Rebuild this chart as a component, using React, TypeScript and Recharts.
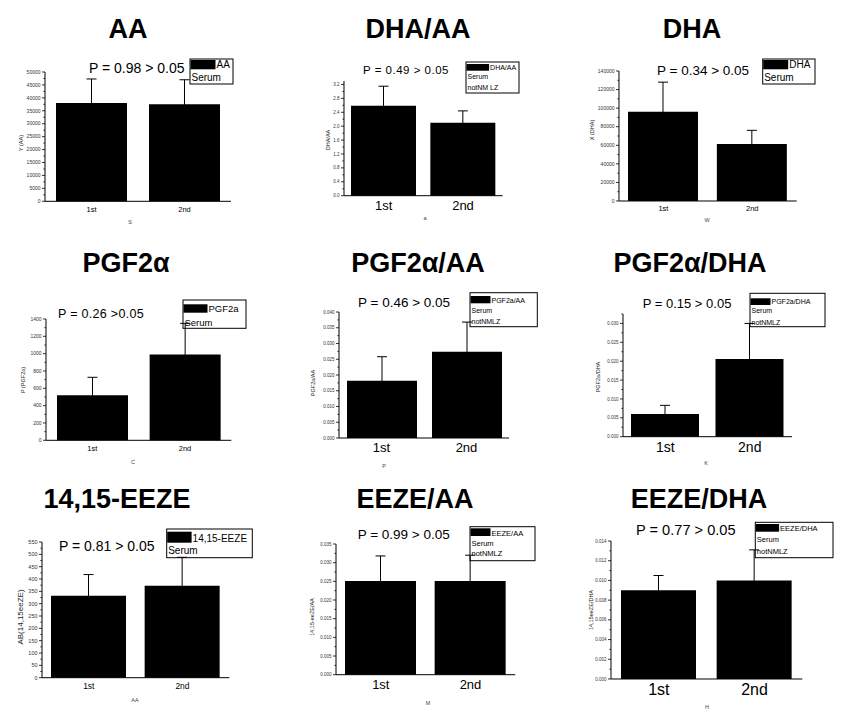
import { BarChart, Bar, XAxis, YAxis, ErrorBar } from 'recharts'

const categories = ['1st', '2nd']

const titles = ['AA', 'DHA/AA', 'DHA', 'PGF2α', 'PGF2α/AA', 'PGF2α/DHA', '14,15-EEZE', 'EEZE/AA', 'EEZE/DHA']

const pTexts = [
  'P = 0.98 > 0.05',
  'P = 0.49 > 0.05',
  'P = 0.34 > 0.05',
  'P = 0.26 >0.05',
  'P = 0.46 > 0.05',
  'P = 0.15 > 0.05',
  'P = 0.81 > 0.05',
  'P = 0.99 > 0.05',
  'P = 0.77 > 0.05',
]

const means1st = [38000, 2.59, 96000, 520, 0.0182, 0.006, 332, 0.0251, 0.009]
const means2nd = [37500, 2.1, 61500, 990, 0.0274, 0.0206, 373, 0.0251, 0.01]
const errs1st = [9300, 0.56, 32000, 207, 0.0076, 0.0023, 86, 0.0067, 0.0015]
const errs2nd = [9500, 0.34, 14600, 360, 0.0094, 0.0094, 115, 0.0069, 0.0031]

const yTickLabels = [
  [0, 5000, 10000, 15000, 20000, 25000, 30000, 35000, 40000, 45000, 50000],
  [0, 0.4, 0.8, 1.2, 1.6, 2.0, 2.4, 2.8, 3.2],
  [0, 20000, 40000, 60000, 80000, 100000, 120000, 140000],
  [0, 200, 400, 600, 800, 1000, 1200, 1400],
  [0, 0.005, 0.01, 0.015, 0.02, 0.025, 0.03, 0.035, 0.04],
  [0, 0.005, 0.01, 0.015, 0.02, 0.025, 0.03],
  [0, 50, 100, 150, 200, 250, 300, 350, 400, 450, 500, 550],
  [0, 0.005, 0.01, 0.015, 0.02, 0.025, 0.03, 0.035],
  [0, 0.002, 0.004, 0.006, 0.008, 0.01, 0.012, 0.014],
]
const yMax = [50000, 3.3, 140000, 1400, 0.04, 0.0325, 550, 0.035, 0.014]

const yTitles = ['Y (AA)', 'DHA/AA', 'X (DHA)', 'P (PGF2a)', 'PGF2a/AA', 'PGF2a/DHA', 'AB(14,15eeZE)', '14,15-eeZE/AA', '14,15eeZE/DHA']
const xTitles = ['S', 'a', 'W', 'C', 'P', 'K', 'AA', 'M', 'H']

const legendLines = [
  ['AA', 'Serum'],
  ['DHA/AA', 'Serum', 'notNM LZ'],
  ['DHA', 'Serum'],
  ['PGF2a', 'Serum'],
  ['PGF2a/AA', 'Serum', 'notNMLZ'],
  ['PGF2a/DHA', 'Serum', 'notNMLZ'],
  ['14,15-EEZE', 'Serum'],
  ['EEZE/AA', 'Serum', 'notNMLZ'],
  ['EEZE/DHA', 'Serum', 'notNMLZ'],
]

// page positions for each panel (plot box, text anchors, legend box)
const layouts = [
  { L: 45, R: 231, T: 71.7, B: 201, bar: 71, yFs: 5, xFs: 7.5, dec: 0,
    title: [128, 38], p: [89, 72.7, 14, 0],
    lg: { x: 190, y: 59, w: 43, h: 25, sw: 25, sh: 9.3, sy: 60, fs: 10, rows: [68.3, 80.7] },
    yt: [21, 143], xt: [130, 222] },
  { L: 344.3, R: 503, T: 81.3, B: 196, bar: 65, yFs: 4.5, xFs: 13, dec: 1,
    title: [418, 38], p: [363, 74, 11.5, 0.5],
    lg: { x: 466, y: 62, w: 53, h: 31, sw: 22.6, sh: 6.7, sy: 64, fs: 7, rows: [70, 79.3, 90.3] },
    yt: [328, 140], xt: [425, 218] },
  { L: 619.3, R: 797, T: 71, B: 201, bar: 70, yFs: 5, xFs: 7.5, dec: 0,
    title: [692, 38], p: [657, 75, 13.5, 0],
    lg: { x: 762.7, y: 59, w: 52.3, h: 25, sw: 25, sh: 9.3, sy: 60, fs: 10, rows: [68.3, 81] },
    yt: [592, 130], xt: [707, 220] },
  { L: 45.7, R: 231, T: 319, B: 440.3, bar: 71, yFs: 5, xFs: 7.5, dec: 0,
    title: [126, 272], p: [58, 317.7, 12.5, 0.3],
    lg: { x: 183, y: 300, w: 63, h: 28.3, sw: 24, sh: 8.4, sy: 304.3, fs: 9.5, rows: [311.7, 325.7] },
    yt: [23, 380], xt: [133, 462] },
  { L: 339, R: 509, T: 312.3, B: 438.3, bar: 70, yFs: 4.5, xFs: 13, dec: 3,
    title: [418, 272], p: [358, 306.7, 13.5, 0],
    lg: { x: 470, y: 292.7, w: 67.3, h: 34, sw: 20, sh: 7.3, sy: 296, fs: 7, rows: [302.7, 312.7, 324.3] },
    yt: [313, 383], xt: [384, 466] },
  { L: 623, R: 792, T: 314, B: 436.7, bar: 68, yFs: 4.5, xFs: 14, dec: 3,
    title: [690, 272], p: [642.7, 307.7, 13, 0],
    lg: { x: 750, y: 293.3, w: 75, h: 33.4, sw: 20, sh: 6.7, sy: 298.3, fs: 7, rows: [304, 313.3, 324.7] },
    yt: [598, 377], xt: [706, 463] },
  { L: 41.7, R: 229, T: 542.3, B: 678, bar: 75, yFs: 5.5, xFs: 8.5, dec: 0,
    title: [117, 508], p: [59, 551, 14, 0],
    lg: { x: 166.7, y: 529, w: 85.6, h: 28.7, sw: 24.4, sh: 11, sy: 531.7, fs: 10, rows: [541.7, 554.3] },
    yt: [20, 617], xt: [135, 700] },
  { L: 335.7, R: 515, T: 544, B: 674.7, bar: 71, yFs: 4.5, xFs: 13, dec: 3,
    title: [415, 508], p: [357.7, 539.3, 13.5, 0],
    lg: { x: 470, y: 526.7, w: 65, h: 34, sw: 20, sh: 7.7, sy: 528.3, fs: 7.5, rows: [535.7, 546, 556] },
    yt: [312, 617], xt: [428, 703] },
  { L: 610.7, R: 802, T: 540.7, B: 678.7, bar: 75, yFs: 4.5, xFs: 16, dec: 3,
    title: [699, 508], p: [636, 535, 14.6, 0],
    lg: { x: 755.3, y: 522.3, w: 77.7, h: 35.4, sw: 23.3, sh: 7.7, sy: 524, fs: 7.5, rows: [531, 542, 554] },
    yt: [591, 610], xt: [707, 707] },
]

const YW = 35
const PAD = 10
const XH = 30

function YTick(props: any) {
  const { x, y, payload, fs, dec, majors } = props
  const ax = x + 4
  const isMajor = majors.some((m: number) => Math.abs(m - payload.value) < 1e-9)
  return (
    <g>
      <line x1={ax - (isMajor ? 3 : 1.6)} x2={ax} y1={y} y2={y} stroke="#000" strokeWidth={0.8} />
      {isMajor && (
        <text x={x - 0.5} y={y} dy="0.35em" textAnchor="end" fontSize={fs} fill="#333">
          {payload.value.toFixed(dec)}
        </text>
      )}
    </g>
  )
}

function Panel({ i }: { i: number }) {
  const lay = layouts[i]
  const data = categories.map((name, k) => ({
    name,
    mean: k === 0 ? means1st[i] : means2nd[i],
    err: k === 0 ? errs1st[i] : errs2nd[i],
  }))
  const majors = yTickLabels[i]
  const ticks: number[] = []
  majors.forEach((v, k) => {
    ticks.push(v)
    const step = majors[1] - majors[0]
    const mid = v + step / 2
    if (mid <= yMax[i] + 1e-9) ticks.push(mid)
  })
  const w = lay.R - lay.L + YW + PAD
  const h = lay.B - lay.T + PAD + XH
  return (
    <div style={{ position: 'absolute', left: lay.L - YW, top: lay.T - PAD, width: w, height: h }}>
      <BarChart width={w} height={h} data={data} margin={{ top: PAD, right: PAD, bottom: 0, left: 0 }}>
        <XAxis
          dataKey="name"
          height={XH}
          tickLine={false}
          axisLine={{ stroke: '#000' }}
          tickSize={3}
          tickMargin={2}
          tick={{ fontSize: lay.xFs, fill: '#000' }}
        />
        <YAxis
          type="number"
          width={YW}
          domain={[0, yMax[i]]}
          ticks={ticks}
          interval={0}
          tickSize={3}
          tickMargin={1}
          tickLine={false}
          axisLine={{ stroke: '#000' }}
          tick={(p: any) => <YTick {...p} fs={lay.yFs} dec={lay.dec} majors={majors} />}
        />
        <Bar dataKey="mean" fill="#000" barSize={lay.bar} isAnimationActive={false}>
          <ErrorBar dataKey="err" width={5} stroke="#000" strokeWidth={1} direction="y" />
        </Bar>
      </BarChart>
    </div>
  )
}

function Notes() {
  return (
    <svg width={842} height={720} style={{ position: 'absolute', left: 0, top: 0, pointerEvents: 'none' }}>
      {layouts.map((lay, i) => {
        const lg = lay.lg
        return (
          <g key={i}>
            <text x={lay.title[0]} y={lay.title[1]} textAnchor="middle" fontSize={27} fontWeight="bold" fill="#000">
              {titles[i]}
            </text>
            <text x={lay.p[0]} y={lay.p[1]} fontSize={lay.p[2]} letterSpacing={lay.p[3]} fill="#000">
              {pTexts[i]}
            </text>
            <rect x={lg.x} y={lg.y} width={lg.w} height={lg.h} fill="none" stroke="#000" strokeWidth={1} />
            <rect x={lg.x + 0.5} y={lg.sy} width={lg.sw} height={lg.sh} fill="#000" />
            {legendLines[i].map((t, k) => (
              <text key={k} x={k === 0 ? lg.x + lg.sw + 1.5 : lg.x + 1.5} y={lg.rows[k]} fontSize={lg.fs} fill="#000">
                {t}
              </text>
            ))}
            <text
              x={lay.yt[0]}
              y={lay.yt[1]}
              transform={`rotate(-90 ${lay.yt[0]} ${lay.yt[1]})`}
              textAnchor="middle"
              dy="0.35em"
              fontSize={i === 6 ? 8 : 5.5}
              fill="#222"
            >
              {yTitles[i]}
            </text>
            <text x={lay.xt[0]} y={lay.xt[1]} textAnchor="middle" dy="0.35em" fontSize={5.5} fill="#444">
              {xTitles[i]}
            </text>
          </g>
        )
      })}
    </svg>
  )
}

export default function App() {
  return (
    <div
      style={{
        position: 'absolute',
        left: 0,
        top: 0,
        width: 842,
        height: 720,
        background: '#fff',
        fontFamily: 'Arial, "Liberation Sans", sans-serif',
      }}
    >
      {layouts.map((_, i) => (
        <Panel key={i} i={i} />
      ))}
      <Notes />
    </div>
  )
}
